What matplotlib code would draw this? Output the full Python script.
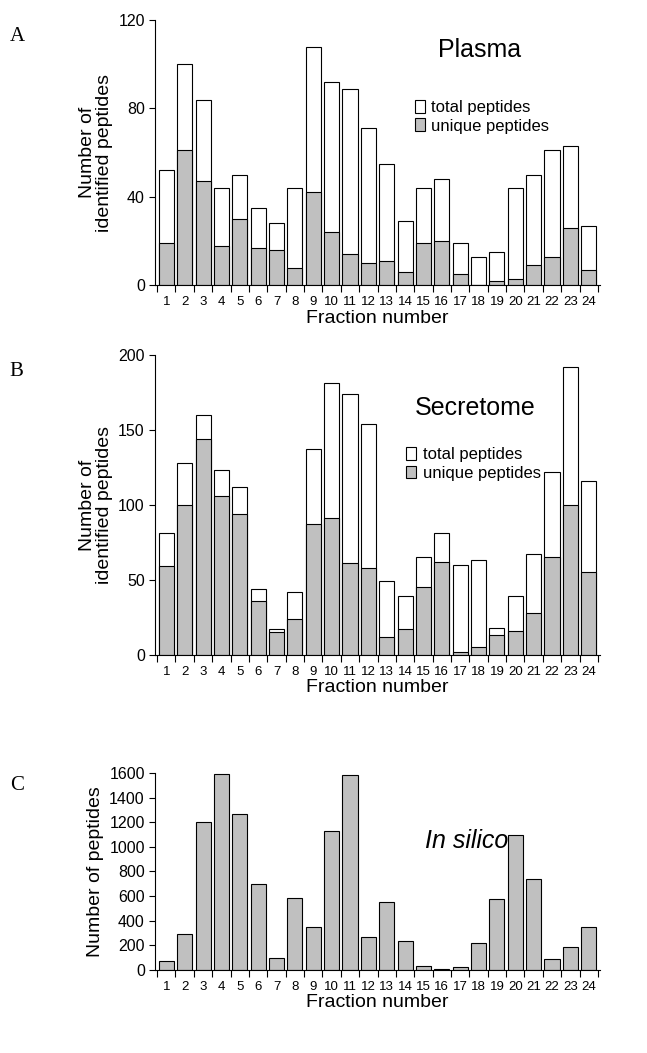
import matplotlib
matplotlib.use("Agg")
import matplotlib.pyplot as plt
import numpy as np

fractions = [str(i) for i in range(1, 25)]
plasma_total = [52,100,84,44,50,35,28,44,108,92,89,71,55,29,44,48,19,13,15,44,50,61,63,27]
plasma_unique = [19,61,47,18,30,17,16,8,42,24,14,10,11,6,19,20,5,0,2,3,9,13,26,7]
secretome_total = [81,128,160,123,112,44,17,42,137,181,174,154,49,39,65,81,60,63,18,39,67,122,192,116]
secretome_unique = [59,100,144,106,94,36,15,24,87,91,61,58,12,17,45,62,2,5,13,16,28,65,100,55]
insilico = [70,290,1200,1590,1265,695,95,580,345,1130,1580,270,555,235,35,5,20,215,575,1095,740,85,185,345]

plt.rcParams['font.family'] = ['Liberation Sans', 'DejaVu Sans']
GREY = '#c0c0c0'
fig = plt.figure(figsize=(6.47, 10.53), dpi=100)
x = np.arange(len(fractions))

def style(ax, ymax, ticks, ylabel):
    ax.set_xlim(-0.6, len(fractions) - 0.4)
    ax.set_ylim(0, ymax)
    ax.set_yticks(ticks)
    ax.tick_params(axis='y', labelsize=11.5, length=4, direction='out')
    ax.set_xticks(np.arange(-0.5, len(fractions)), minor=False)
    ax.set_xticklabels([])
    ax.set_xticks(x, minor=True)
    ax.set_xticklabels(fractions, minor=True, fontsize=9.5)
    ax.tick_params(axis='x', which='major', length=5)
    ax.tick_params(axis='x', which='minor', length=0, pad=8)
    ax.spines['top'].set_visible(False)
    ax.spines['right'].set_visible(False)
    ax.set_ylabel(ylabel, fontsize=14, linespacing=1.0)
    ax.set_xlabel('Fraction number', fontsize=14, labelpad=1)

def stacked(rect, total, unique, ymax, ticks, title, tx, ty, lx, ly, letter):
    ax = fig.add_axes(rect)
    ax.bar(x, total, width=0.82, color='white', edgecolor='black', linewidth=0.8, label='total peptides')
    ax.bar(x, unique, width=0.82, color=GREY, edgecolor='black', linewidth=0.8, label='unique peptides')
    style(ax, ymax, ticks, 'Number of\nidentified peptides')
    ax.text(tx, ty, title, transform=ax.transAxes, fontsize=18, ha='center')
    ax.legend(loc='upper left', bbox_to_anchor=(lx, ly), frameon=False, fontsize=12,
              handlelength=0.6, handleheight=0.8, handletextpad=0.4, labelspacing=0.2, borderpad=0)
    fig.text(0.015, rect[1] + rect[3] - 0.02, letter, fontsize=15, family='Liberation Serif')
    return ax

stacked([0.24, 0.729, 0.687, 0.252], plasma_total, plasma_unique, 120, [0, 40, 80, 120],
        'Plasma', 0.73, 0.86, 0.565, 0.73, 'A')
stacked([0.24, 0.378, 0.687, 0.285], secretome_total, secretome_unique, 200, [0, 50, 100, 150, 200],
        'Secretome', 0.72, 0.8, 0.545, 0.72, 'B')

ax = fig.add_axes([0.24, 0.079, 0.687, 0.187])
ax.bar(x, insilico, width=0.82, color=GREY, edgecolor='black', linewidth=0.8)
style(ax, 1600, list(range(0, 1601, 200)), 'Number of peptides')
ax.text(0.7, 0.62, 'In silico', transform=ax.transAxes, fontsize=18, ha='center', style='italic')
fig.text(0.015, 0.25, 'C', fontsize=15, family='Liberation Serif')

fig.savefig('out.png', dpi=100)
